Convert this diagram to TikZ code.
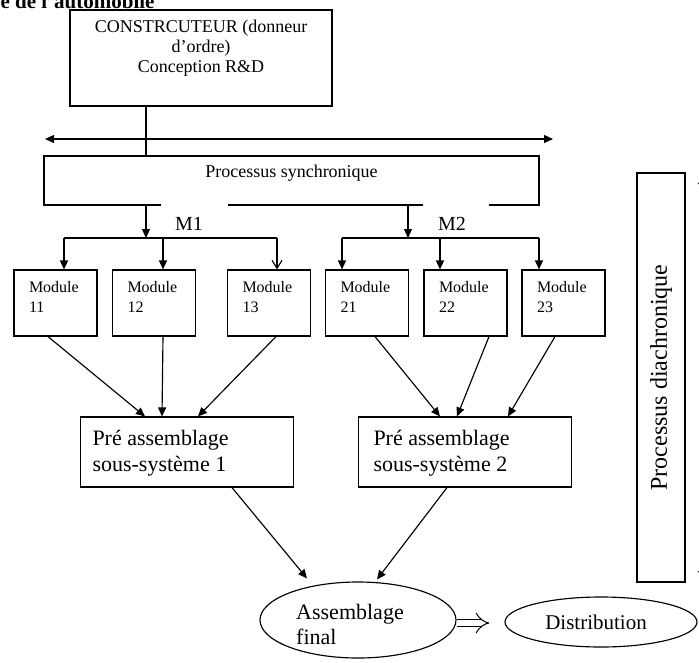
\documentclass[tikz,border=0pt]{standalone}
\usepackage{fontspec}
\setmainfont{Liberation Serif}
\usetikzlibrary{arrows.meta,shapes.geometric}
\begin{document}
\begin{tikzpicture}[x=1pt,y=-1pt, line width=1.15pt,
  box/.style={draw, rectangle, inner sep=0pt},
  modbox/.style={box, minimum width=83pt, minimum height=66pt},
  prebox/.style={box, minimum width=213pt, minimum height=70pt},
  arr/.style={-{Triangle[length=9pt,width=8pt]}},
  openarr/.style={-{Straight Barb[length=8pt,width=10pt]}},
  modtxt/.style={anchor=north west, inner sep=0pt, align=left, font=\fontsize{16}{20}\selectfont},
  pretxt/.style={anchor=north west, inner sep=0pt, align=left, font=\fontsize{22}{26}\selectfont},
  mlab/.style={inner sep=0pt, font=\fontsize{20}{24}\selectfont},
]
\useasboundingbox (0,0) rectangle (699,662);

% title (clipped)
\node[anchor=base west, inner sep=0pt, font=\bfseries\fontsize{21}{24}\selectfont] (title) at (0,8) {e de l'automobile};

% top box
\node[box, minimum width=262pt, minimum height=96pt] (top) at (201,58) {};
\node[anchor=north, inner sep=0pt, align=center, font=\fontsize{18}{20}\selectfont] (toptxt) at ([yshift=-10pt]top.north) {CONSTRCUTEUR (donneur\\d’ordre)\\Conception R\&D};

% synchronic box
\node[box, minimum width=495pt, minimum height=49pt] (sync) at (291.5,180.5) {};
\node[inner sep=0pt, font=\fontsize{18}{20}\selectfont] (synctxt) at ([yshift=7pt]sync.center) {Processus synchronique};
\fill[white] (161,202) rectangle (228,208);
\fill[white] (423,202) rectangle (489,208);

% link from top box, double arrow
\coordinate (tapa) at (146,0);
\coordinate (hl) at (45,139);
\coordinate (hr) at (553,139);
\draw[{Triangle[length=9pt,width=8pt]}-{Triangle[length=9pt,width=8pt]}] (hl) -- (hr);
\draw (top.south -| tapa) -- (sync.north -| tapa);

% M labels
\node[mlab] (M1) at (189,224) {M1};
\node[mlab] (M2) at (452,224) {M2};

% modules
\node[modbox] (m11) at (55.5,303) {};
\node[modbox] (m12) at (154,303) {};
\node[modbox] (m13) at (269,303) {};
\node[modbox] (m21) at (367,303) {};
\node[modbox] (m22) at (465.5,303) {};
\node[modbox] (m23) at (563.5,303) {};
\node[modtxt] at ([xshift=15pt,yshift=-11pt]m11.north west) {Module\\11};
\node[modtxt] at ([xshift=15pt,yshift=-11pt]m12.north west) {Module\\12};
\node[modtxt] at ([xshift=15pt,yshift=-11pt]m13.north west) {Module\\13};
\node[modtxt] at ([xshift=15pt,yshift=-11pt]m21.north west) {Module\\21};
\node[modtxt] at ([xshift=15pt,yshift=-11pt]m22.north west) {Module\\22};
\node[modtxt] at ([xshift=15pt,yshift=-11pt]m23.north west) {Module\\23};

% bus M1
\coordinate (b1l) at (64,238);
\coordinate (b1m) at (163,238);
\coordinate (b1r) at (277,238);
\draw[arr] (sync.south -| tapa) -- (tapa |- b1l);
\draw (b1l) -- (b1r);
\draw[arr] (b1l) -- (m11.north -| b1l);
\draw[arr] (b1m) -- (m12.north -| b1m);
\draw[openarr] (b1r) -- (m13.north -| b1r);

% bus M2
\coordinate (tapb) at (408,0);
\coordinate (b2l) at (342,238);
\coordinate (b2m) at (440,238);
\coordinate (b2r) at (539,238);
\draw[arr] (sync.south -| tapb) -- (tapb |- b2l);
\draw (b2l) -- (b2r);
\draw[arr] (b2l) -- (m21.north -| b2l);
\draw[arr] (b2m) -- (m22.north -| b2m);
\draw[arr] (b2r) -- (m23.north -| b2r);

% pre-assembly boxes
\node[prebox] (pre1) at (187,452) {};
\node[prebox] (pre2) at (465,452) {};
\node[pretxt] at ([xshift=12pt,yshift=-13pt]pre1.north west) {Pré assemblage\\sous-système 1};
\node[pretxt] at ([xshift=15pt,yshift=-13pt]pre2.north west) {Pré assemblage\\sous-système 2};

\draw[arr] ([xshift=-7.5pt]m11.south) -- ([xshift=-42pt]pre1.north);
\draw[arr] ([xshift=9pt]m12.south) -- ([xshift=-25pt]pre1.north);
\draw[arr] ([xshift=7pt]m13.south) -- ([xshift=11pt]pre1.north);
\draw[arr] ([xshift=8pt]m21.south) -- ([xshift=-25pt]pre2.north);
\draw[arr] ([xshift=23.5pt]m22.south) -- ([xshift=-8pt]pre2.north);
\draw[arr] ([xshift=-8.5pt]m23.south) -- ([xshift=43pt]pre2.north);

% final assembly and distribution
\node[draw, ellipse, inner sep=0pt, minimum width=196pt, minimum height=76pt] (fin) at (358,620) {};
\node[inner sep=0pt, align=left, font=\fontsize{22}{25}\selectfont] (fintxt) at (350,624) {Assemblage\\final};
\node[draw, ellipse, inner sep=0pt, minimum width=192pt, minimum height=50pt] (dist) at (601,622) {};
\node[inner sep=0pt, font=\fontsize{21}{24}\selectfont] (disttxt) at (596,622) {Distribution};

\draw[arr] ([xshift=45pt]pre1.south) -- ([xshift=-51pt,yshift=3pt]fin.north);
\draw[arr] ([xshift=-18pt]pre2.south) -- ([xshift=19pt,yshift=2pt]fin.north);
\draw[line width=1pt, double, double distance=6.5pt, -{Implies}, shorten >=15pt] ([yshift=-3pt]fin.east) -- ([yshift=-3pt]fin.east -| dist.west);

% diachronic box
\node[box, minimum width=48pt, minimum height=409pt] (dia) at (661,377.5) {};
\node[rotate=90, inner sep=0pt, font=\fontsize{24}{28}\selectfont] (diatxt) at (dia.center) {Processus diachronique};
\coordinate (da1) at (703,176);
\coordinate (da2) at (703,579);
\draw[{Triangle[length=8pt,width=10pt]}-{Triangle[length=8pt,width=10pt]}] (da1) -- (da2);
\end{tikzpicture}
\end{document}
